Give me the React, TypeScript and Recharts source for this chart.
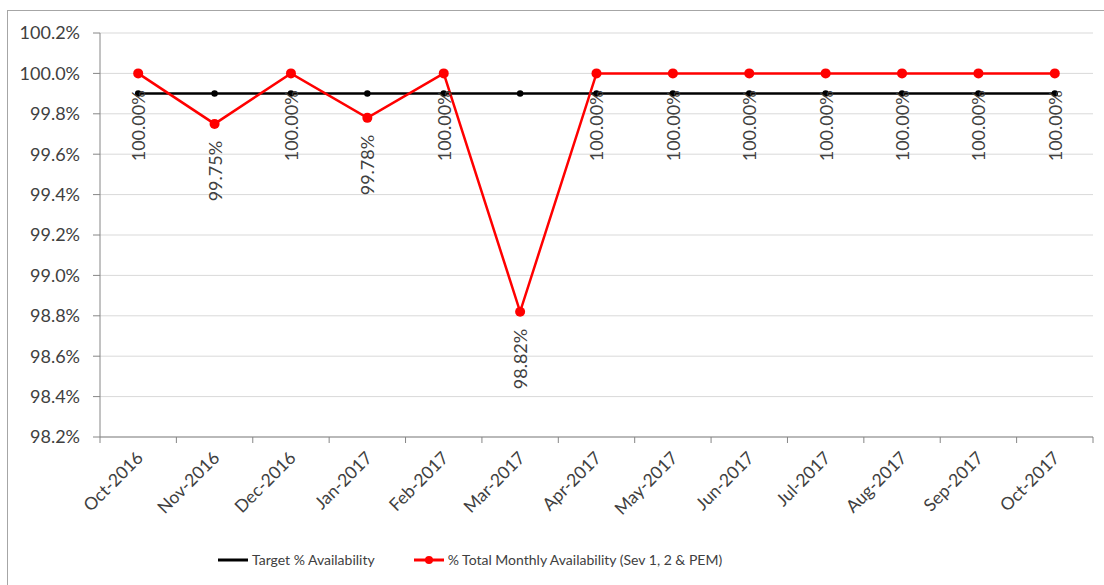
import React from "react";
import { CartesianGrid, Line, LineChart, XAxis, YAxis } from "recharts";

const months = [
  "Oct-2016",
  "Nov-2016",
  "Dec-2016",
  "Jan-2017",
  "Feb-2017",
  "Mar-2017",
  "Apr-2017",
  "May-2017",
  "Jun-2017",
  "Jul-2017",
  "Aug-2017",
  "Sep-2017",
  "Oct-2017",
];
const target = [99.9, 99.9, 99.9, 99.9, 99.9, 99.9, 99.9, 99.9, 99.9, 99.9, 99.9, 99.9, 99.9];
const monthly = [100, 99.75, 100, 99.78, 100, 98.82, 100, 100, 100, 100, 100, 100, 100];
const yTicks = [98.2, 98.4, 98.6, 98.8, 99.0, 99.2, 99.4, 99.6, 99.8, 100.0, 100.2];

const data = months.map((month, i) => ({
  month,
  target: target[i],
  monthly: monthly[i],
}));

const FONT = "Lato, 'Open Sans', sans-serif";
const TEXT = "#404040";
const AXIS = "#868686";
const WIDTH = 1104;
const HEIGHT = 585;
const MARGIN = { top: 33, right: 11, left: 0, bottom: 48 };
const Y_AXIS_WIDTH = 100;
const bandWidth = (WIDTH - MARGIN.left - MARGIN.right - Y_AXIS_WIDTH) / months.length;

function MonthTick(props: any) {
  const { x, y, payload, index } = props;
  const last = index === months.length - 1;
  return (
    <g>
      <line x1={x - bandWidth / 2} x2={x - bandWidth / 2} y1={y} y2={y + 6} stroke={AXIS} />
      {last && (
        <line x1={x + bandWidth / 2} x2={x + bandWidth / 2} y1={y} y2={y + 6} stroke={AXIS} />
      )}
      <g transform={`translate(${x + 6},${y + 22})`}>
        <text
          transform="rotate(-45)"
          textAnchor="end"
          fill={TEXT}
          fontSize={17.5}
          fontFamily={FONT}
        >
          {payload.value}
        </text>
      </g>
    </g>
  );
}

function ValueLabel(props: any) {
  const { x, y, value } = props;
  const ly = y + 17;
  return (
    <text
      x={x}
      y={ly}
      transform={`rotate(-90 ${x} ${ly})`}
      textAnchor="end"
      dominantBaseline="central"
      fill={TEXT}
      fontSize={18}
      fontFamily={FONT}
    >
      {Number(value).toFixed(2)}%
    </text>
  );
}

export default function App() {
  return (
    <div
      style={{
        position: "fixed",
        left: 0,
        top: 0,
        width: WIDTH,
        height: HEIGHT,
        overflow: "hidden",
        background: "#fff",
      }}
    >
      <div
        style={{
          position: "absolute",
          left: 7,
          top: 10,
          right: -5,
          bottom: -5,
          borderLeft: "1px solid #a6a6a6",
          borderTop: "1px solid #a6a6a6",
        }}
      />
      <div style={{ position: "absolute", left: 0, top: 0 }}>
        <LineChart width={WIDTH} height={HEIGHT} data={data} margin={MARGIN}>
          <CartesianGrid vertical={false} stroke="#d9d9d9" />
          <XAxis
            dataKey="month"
            height={100}
            interval={0}
            stroke={AXIS}
            padding={{ left: bandWidth / 2, right: bandWidth / 2 }}
            tickLine={false}
            tickSize={0}
            tickMargin={0}
            tick={<MonthTick />}
          />
          <YAxis
            width={Y_AXIS_WIDTH}
            domain={[98.2, 100.2]}
            ticks={yTicks}
            stroke={AXIS}
            tickSize={7}
            tickMargin={13}
            tick={{ fill: TEXT, fontSize: 18, fontFamily: FONT }}
            tickFormatter={(v: number) => `${v.toFixed(1)}%`}
          />
          <Line
            dataKey="target"
            name="Target % Availability"
            stroke="#000"
            strokeWidth={2.5}
            dot={{ r: 2, fill: "#000", stroke: "#000" }}
            isAnimationActive={false}
          />
          <Line
            dataKey="monthly"
            name="% Total Monthly Availability (Sev 1, 2 & PEM)"
            stroke="#ff0000"
            strokeWidth={2.5}
            dot={{ r: 5, fill: "#ff0000", stroke: "#ff0000", strokeWidth: 0 }}
            label={<ValueLabel />}
            isAnimationActive={false}
          />
        </LineChart>
      </div>
      <div
        style={{
          position: "absolute",
          top: 551,
          left: 217,
          display: "flex",
          alignItems: "center",
          fontFamily: FONT,
          fontSize: 14,
          color: TEXT,
          whiteSpace: "nowrap",
        }}
      >
        <svg width={32} height={10} style={{ marginRight: 3 }}>
          <line x1={1} x2={31} y1={5} y2={5} stroke="#000" strokeWidth={3} />
        </svg>
        <span style={{ marginRight: 38 }}>Target % Availability</span>
        <svg width={32} height={10} style={{ marginRight: 3 }}>
          <line x1={1} x2={31} y1={5} y2={5} stroke="#ff0000" strokeWidth={3} />
          <circle cx={16} cy={5} r={4} fill="#ff0000" />
        </svg>
        <span>% Total Monthly Availability (Sev 1, 2 &amp; PEM)</span>
      </div>
    </div>
  );
}
